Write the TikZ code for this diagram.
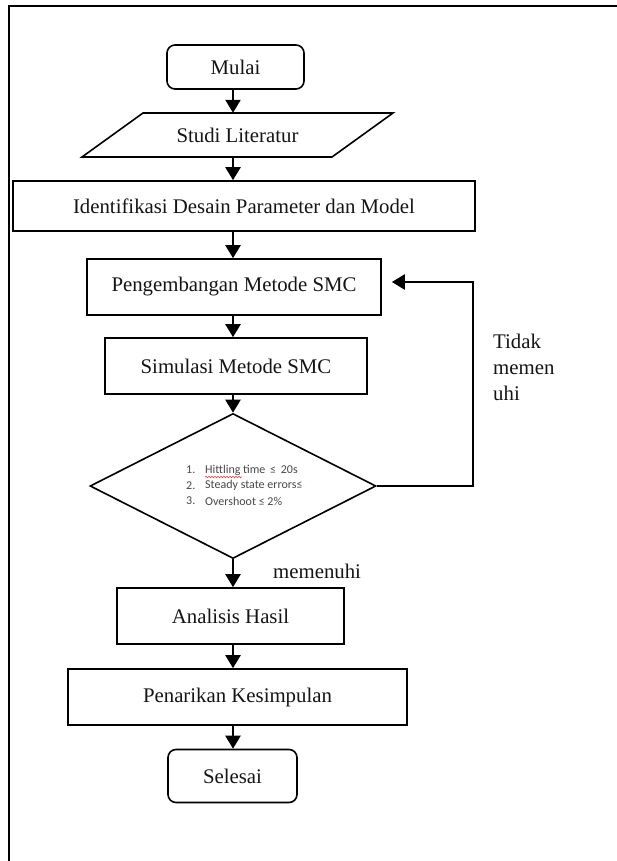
\documentclass[tikz,border=0pt]{standalone}
\usepackage{fontspec}
\setmainfont{Liberation Serif}
\newfontfamily\listfont{Carlito}
\usetikzlibrary{arrows.meta,shapes.geometric,decorations.pathmorphing}

\begin{document}
\begin{tikzpicture}[x=1pt,y=-1pt,
  every node/.style={font=\fontsize{20.8}{24}\selectfont, text=black!92},
  box/.style={draw, line width=1.6pt, inner sep=0pt},
  term/.style={box, rounded corners=8pt},
  flow/.style={line width=2.2pt, -{Triangle[width=15pt,length=13pt]}},
  crit/.style={anchor=west, inner sep=0pt, text=black!72,
    font=\listfont\fontsize{12}{14}\selectfont},
  label/.style={inner sep=0pt, align=left},
]
\useasboundingbox (0,0) rectangle (617,861);

% page frame (top and left edges)
\draw[line width=2.2pt] (617,6) -- (9,6) -- (9,861);

% main axis of the flow
\coordinate (axis) at (233,0);

% process steps
\node[term, minimum width=137pt, minimum height=44pt] (mulai) at (235.5,67) {Mulai};

\draw[box] (143,113) -- (393,113) -- (332,157) -- (82,157) -- cycle;
\node[inner sep=0pt, minimum width=250pt, minimum height=44pt] (studi) at (237.5,135) {Studi Literatur};

\node[box, minimum width=462pt, minimum height=50pt] (ident) at (244,206) {Identifikasi Desain Parameter dan Model};
\node[box, minimum width=294pt, minimum height=56pt] (peng) at (234,287) {Pengembangan Metode SMC};
\node[box, minimum width=262pt, minimum height=56pt] (simu) at (236,366) {Simulasi Metode SMC};
\node[draw, diamond, line width=1.6pt, inner sep=0pt, minimum width=286pt, minimum height=145pt] (dec) at (233,486) {};
\node[box, minimum width=227pt, minimum height=56pt] (anal) at (230.5,616) {Analisis Hasil};
\node[box, minimum width=339pt, minimum height=56pt] (pena) at (237.5,697) {Penarikan Kesimpulan};
\node[term, minimum width=129pt, minimum height=53pt] (sele) at (232.5,776) {Selesai};

% decision criteria (second line runs past the text frame and is cut off)
\begin{scope}
  \clip (150,455) rectangle (305,515);
  \node[crit] (n1) at (186,470) {1.};
  \node[crit] (c1) at (205,470) {Hittling time\, ≤\, 20s};
  \node[crit] (n2) at (186,485.5) {2.};
  \node[crit] (c2) at (205,485.5) {Steady state errors≤ 3\%};
  \node[crit] (n3) at (186,501) {3.};
  \node[crit] (c3) at (205,501) {Overshoot ≤ 2\%};
\end{scope}
\draw[red!80, line width=0.6pt, decorate,
  decoration={snake, amplitude=0.7pt, segment length=3pt}] (205,477) -- (242,477);

% connectors
\draw[flow] (mulai.south -| axis) -- (studi.north -| axis);
\draw[flow] (studi.south -| axis) -- (ident.north -| axis);
\draw[flow] (ident.south -| axis) -- (peng.north -| axis);
\draw[flow] (peng.south -| axis) -- (simu.north -| axis);
\draw[flow] (simu.south -| axis) -- (dec.north);
\draw[flow] (dec.south) -- (anal.north -| axis);
\draw[flow] (anal.south -| axis) -- (pena.north -| axis);
\draw[flow] (pena.south -| axis) -- (sele.north -| axis);

% loop back when the criteria are not met
\coordinate (fb) at (473,282);
\draw[flow, shorten >=10pt] (dec.east) -- (dec.east -| fb) -- (fb) -- (fb -| peng.east);

% branch labels
\node[label, anchor=north west, font=\fontsize{20.8}{26}\selectfont] (tidak) at (493,334) {Tidak\\memen\\uhi};
\node[label, anchor=base west] (ok) at (273,578) {memenuhi};
\end{tikzpicture}
\end{document}
